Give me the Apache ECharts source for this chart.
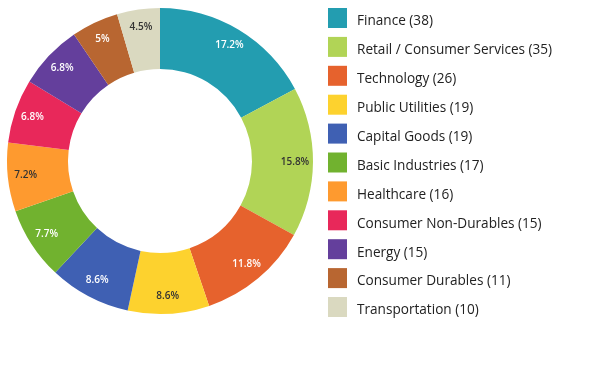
<!DOCTYPE html>
<html><head><meta charset="utf-8">
<script src="https://cdn.jsdelivr.net/npm/echarts@6/dist/echarts.min.js"></script>
<style>html,body{margin:0;padding:0;background:#fff}#c{width:599px;height:365px}</style>
</head><body><div id="c"></div>
<script>
const categories = ["Finance","Retail / Consumer Services","Technology","Public Utilities","Capital Goods","Basic Industries","Healthcare","Consumer Non-Durables","Energy","Consumer Durables","Transportation"];
const counts = [38,35,26,19,19,17,16,15,15,11,10];
const colors = ["#239DB0","#B1D456","#E6622D","#FDD22E","#3F60B3","#71B22F","#FE9A2F","#E8285A","#643F9C","#B86631","#DAD9C0"];
const labelColors = ["#fff","#333","#fff","#333","#fff","#fff","#333","#fff","#fff","#fff","#333"];

const total = counts.reduce((a,b)=>a+b,0);
const fmtPct = v => { const p = Math.round(v/total*1000)/10; return p + '%'; };

const dataMain = categories.map((n,i)=>({name:n,value:counts[i],itemStyle:{color:colors[i]}}));
const dataLabels = categories.map((n,i)=>({name:n,value:counts[i],itemStyle:{color:'rgba(0,0,0,0)'},label:{color:labelColors[i]}}));

const chart = echarts.init(document.getElementById('c'), null, {renderer:'canvas'});
chart.setOption({
  animation:false,
  color: colors,
  legend:{
    orient:'vertical', left:328, top:8, padding:0,
    itemWidth:19, itemHeight:20, itemGap:8.4,
    icon:'rect',
    data: categories,
    formatter: name => '{t|' + name + ' (' + counts[categories.indexOf(name)] + ')}',
    textStyle:{fontFamily:'Open Sans', fontSize:13.6, color:'#222', padding:[0,0,0,5],
      rich:{t:{fontFamily:'Open Sans', fontSize:13.6, color:'#222', padding:[7,0,0,0]}}}
  },
  series:[
    {type:'pie', center:[160,161], radius:[92,153], startAngle:90, clockwise:true,
     avoidLabelOverlap:false, label:{show:false}, labelLine:{show:false},
     emphasis:{disabled:true}, data:dataMain},
    {type:'pie', center:[160,161], radius:[111,153], startAngle:90, clockwise:true, silent:true,
     avoidLabelOverlap:false, labelLine:{show:false}, emphasis:{disabled:true},
     label:{show:true, position:'inside', fontFamily:'Open Sans', fontSize:10, fontWeight:600,
       formatter: p => fmtPct(p.value)},
     data:dataLabels}
  ]
});
</script></body></html>
